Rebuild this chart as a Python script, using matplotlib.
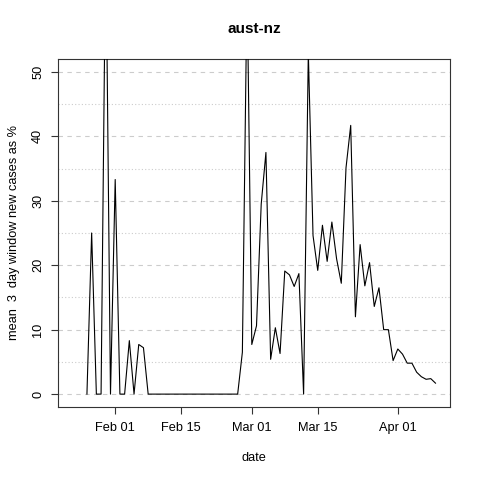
import numpy as np
import pandas as pd
import matplotlib
matplotlib.use("Agg")
import matplotlib.pyplot as plt
import matplotlib.dates as mdates

plt.rcParams['font.family'] = ['Liberation Sans', 'DejaVu Sans']

# data: daily values from 2020-01-23 to 2020-04-09 (first three missing)
start_date = "2020-01-23"
values = [
    np.nan, np.nan, np.nan,            # Jan 23-25
    0, 25, 0, 0, 72, 0,                # Jan 26-31
    33.3, 0, 0, 8.3, 0, 7.7, 7.2, 0,   # Feb 1-8
    0, 0, 0, 0, 0, 0, 0, 0, 0, 0,      # Feb 9-18
    0, 0, 0, 0, 0, 0, 0, 0, 0,         # Feb 19-27
    6.5, 64,                           # Feb 28-29
    7.7, 10.6, 29.5, 37.5, 5.4, 10.3, 6.3, 19.1, 18.5, 16.7,   # Mar 1-10
    18.7, 0, 53, 24.6, 19.2, 26.2, 20.6, 26.7, 21.0, 17.2,     # Mar 11-20
    35.1, 41.7, 12.0, 23.2, 16.8, 20.4, 13.6, 16.5, 10.0, 10.0, 5.2,  # Mar 21-31
    7.0, 6.2, 4.8, 4.8, 3.4, 2.7, 2.3, 2.4, 1.7,               # Apr 1-9
]
dates = pd.date_range(start_date, periods=len(values), freq="D")

tick_dates = pd.to_datetime(["2020-02-01", "2020-02-15", "2020-03-01", "2020-03-15", "2020-04-01"])
y_major = [0, 10, 20, 30, 40, 50]
y_minor = [5, 15, 25, 35, 45]

title = "aust-nz"
xlabel = "date"
ylabel = "mean  3  day window new cases as %"

fig = plt.figure(figsize=(4.8, 4.8), dpi=100)
ax = fig.add_axes([58.3 / 480, 1 - 407 / 480, (450 - 58.3) / 480, (407 - 59) / 480])

xnum = mdates.date2num(dates)
span = xnum[-1] - xnum[0]
ax.set_xlim(xnum[0] - 0.04 * span, xnum[-1] + 0.04 * span)
ax.set_ylim(-2, 52)

for y in y_major:
    ax.axhline(y, color="#cccccc", lw=0.8, ls=(0, (4, 4)), zorder=1)
for y in y_minor:
    ax.axhline(y, color="#cccccc", lw=0.8, ls=(0, (1, 2)), zorder=1)

ax.plot(dates, values, color="black", lw=0.8, zorder=3)

ax.set_xticks(tick_dates)
ax.xaxis.set_major_formatter(mdates.DateFormatter("%b %d"))
ax.set_yticks(y_major)
ax.tick_params(axis="both", direction="out", length=5.2, width=0.8, labelsize=9.2,
               color="#333333")
ax.tick_params(axis="x", pad=5.5)
ax.tick_params(axis="y", pad=5)
plt.setp(ax.get_yticklabels(), rotation=90, va="center")

for s in ax.spines.values():
    s.set_linewidth(0.8)
    s.set_color("#333333")

ax.set_title(title, fontsize=11, fontweight="bold", pad=19)
ax.set_xlabel(xlabel, fontsize=9.2, labelpad=13)
ax.set_ylabel(ylabel, fontsize=9.2, labelpad=9)

fig.savefig("out.png", dpi=100)
